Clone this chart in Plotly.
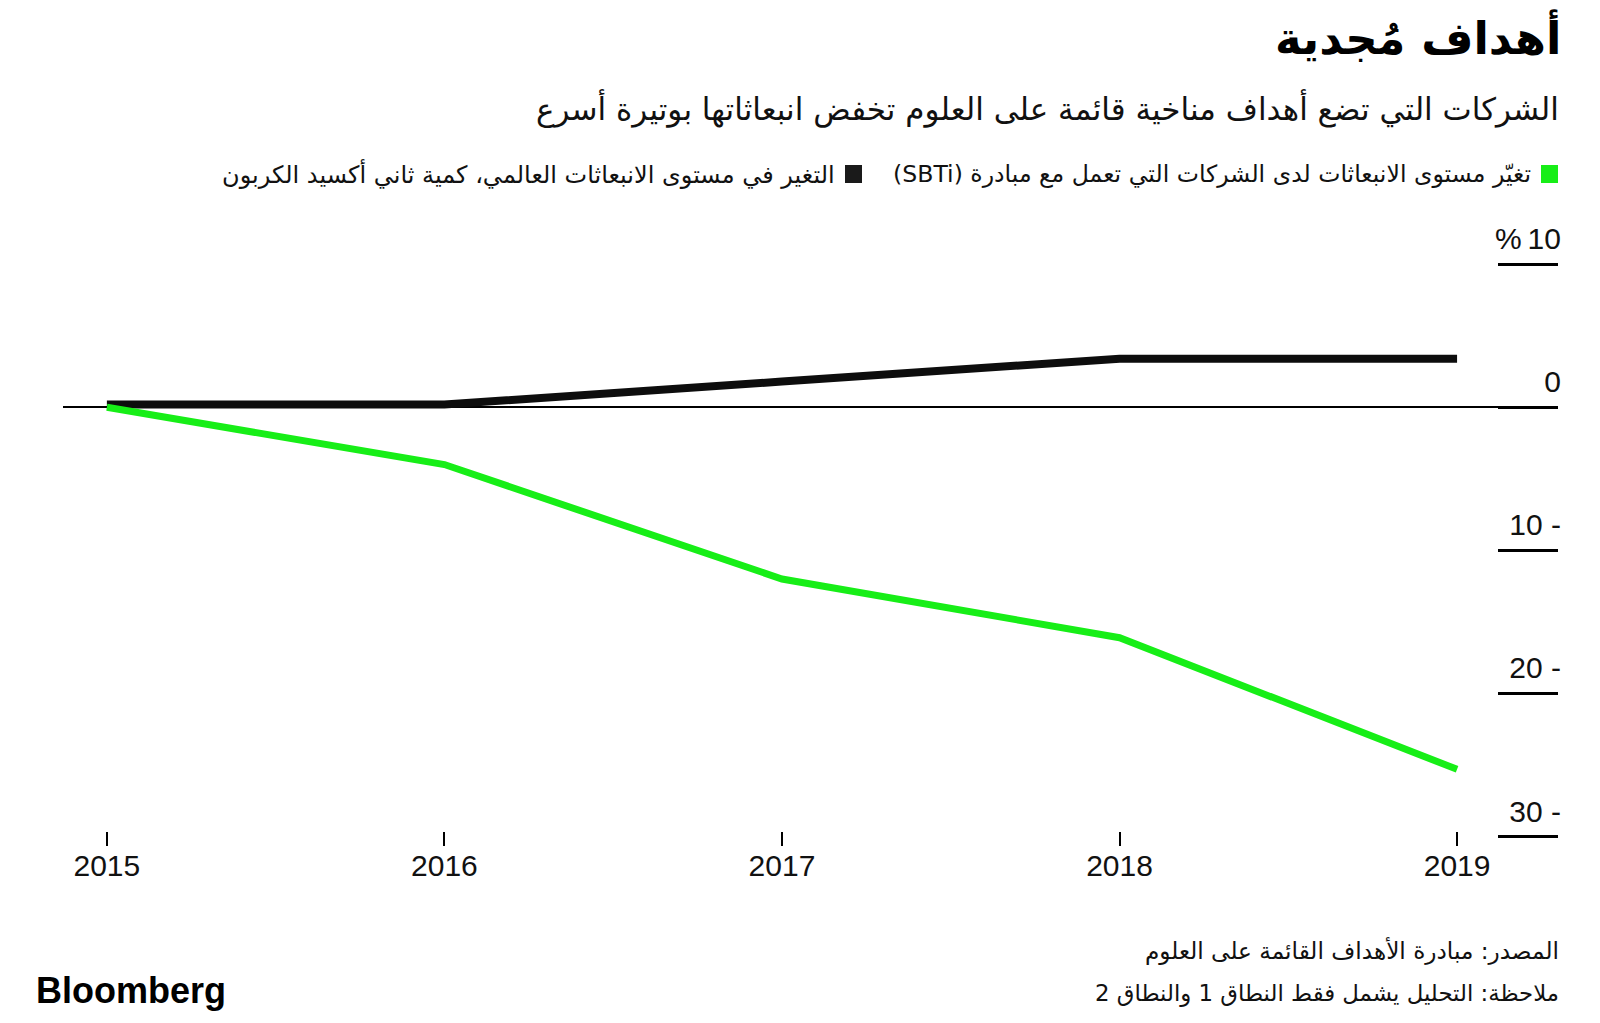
import plotly.graph_objects as go

# ---- data ----
years = [2015, 2016, 2017, 2018, 2019]
sbti_change = [0.0, -4.0, -12.0, -16.1, -25.3]
global_change = [0.2, 0.2, 1.8, 3.4, 3.4]
y_tickvals = [10, 0, -10, -20, -30]
y_ticktext = ["%\u200910", "0", "10 -", "20 -", "30 -"]
x_ticktext = ["2015", "2016", "2017", "2018", "2019"]

title = "أهداف مُجدية"
subtitle = "الشركات التي تضع أهداف مناخية قائمة على العلوم تخفض انبعاثاتها بوتيرة أسرع"
legend_sbti = "تغيّر مستوى الانبعاثات لدى الشركات التي تعمل مع مبادرة (SBTi)"
legend_global = "التغير في مستوى الانبعاثات العالمي، كمية ثاني أكسيد الكربون"
source = "المصدر: مبادرة الأهداف القائمة على العلوم"
note = "ملاحظة: التحليل يشمل فقط النطاق 1 والنطاق 2"

GREEN = "#17ee17"
BLACK = "#0d0d0d"

W, H = 1600, 1023
ML, MR, MT, MB = 63, 42, 207, 185
PW = W - ML - MR
PH = H - MT - MB


def px(x):
    return (x - ML) / PW


def py(y):
    return (H - MB - y) / PH


def rtl(s):
    return "\u202b" + s + "\u202c"


AR = "DejaVu Sans"
LAT = "Liberation Sans, Arial, sans-serif"

fig = go.Figure()
fig.add_trace(go.Scatter(x=years, y=global_change, mode="lines",
                         line=dict(color=BLACK, width=8), hoverinfo="skip",
                         showlegend=False))
fig.add_trace(go.Scatter(x=years, y=sbti_change, mode="lines",
                         line=dict(color=GREEN, width=7), hoverinfo="skip",
                         showlegend=False))

annotations = [
    dict(text="<b>" + rtl(title) + "</b>", x=px(1563), y=py(37), xref="paper", yref="paper",
         xanchor="right", yanchor="middle", showarrow=False,
         font=dict(family=AR, size=45, color="#000")),
    dict(text=rtl(subtitle), x=px(1561), y=py(109), xref="paper", yref="paper",
         xanchor="right", yanchor="middle", showarrow=False,
         font=dict(family=AR, size=31, color="#111")),
    dict(text=rtl(legend_sbti), x=px(1533), y=py(174), xref="paper", yref="paper",
         xanchor="right", yanchor="middle", showarrow=False,
         font=dict(family=AR, size=23.6, color="#111")),
    dict(text=rtl(legend_global), x=px(837), y=py(174), xref="paper", yref="paper",
         xanchor="right", yanchor="middle", showarrow=False,
         font=dict(family=AR, size=24, color="#111")),
    dict(text=rtl(source), x=px(1561), y=py(951), xref="paper", yref="paper",
         xanchor="right", yanchor="middle", showarrow=False,
         font=dict(family=AR, size=23.2, color="#111")),
    dict(text=rtl(note), x=px(1561), y=py(993), xref="paper", yref="paper",
         xanchor="right", yanchor="middle", showarrow=False,
         font=dict(family=AR, size=22.8, color="#111")),
    dict(text="<b>Bloomberg</b>", x=px(34), y=py(990), xref="paper", yref="paper",
         xanchor="left", yanchor="middle", showarrow=False,
         font=dict(family=LAT, size=36, color="#000")),
]

shapes = [
    dict(type="rect", xref="paper", yref="paper", x0=px(1541), x1=px(1558),
         y0=py(183), y1=py(165), fillcolor=GREEN, line=dict(width=0)),
    dict(type="rect", xref="paper", yref="paper", x0=px(845), x1=px(862),
         y0=py(183), y1=py(165), fillcolor="#1a1a1a", line=dict(width=0)),
]

fig.update_layout(
    width=W, height=H,
    margin=dict(l=ML, r=MR, t=MT, b=MB, pad=0),
    paper_bgcolor="white", plot_bgcolor="white",
    showlegend=False,
    annotations=annotations,
    shapes=shapes,
    hovermode=False,
)

fig.update_xaxes(
    range=[2014.870, 2019.299],
    anchor="free", position=7 / PH,
    tickvals=years, ticktext=x_ticktext,
    ticks="outside", ticklen=14, tickwidth=2, tickcolor="#000",
    ticklabelstandoff=-6,
    showgrid=False, zeroline=False, showline=False,
    tickfont=dict(family=LAT, size=30, color="#111"),
)

fig.update_yaxes(
    range=[-30.1, 14], side="right",
    tickvals=y_tickvals, ticktext=y_ticktext,
    ticks="inside", ticklen=60, tickwidth=3, tickcolor="#000",
    ticklabelposition="inside top", ticklabelshift=-3, ticklabelstandoff=-6,
    showgrid=False, showline=False,
    zeroline=True, zerolinecolor="#000", zerolinewidth=2,
    tickfont=dict(family=LAT, size=30, color="#111"),
)

fig.write_html("out.html", config={"displayModeBar": False},
               post_script="document.body.style.margin='0';document.body.style.padding='0';")
